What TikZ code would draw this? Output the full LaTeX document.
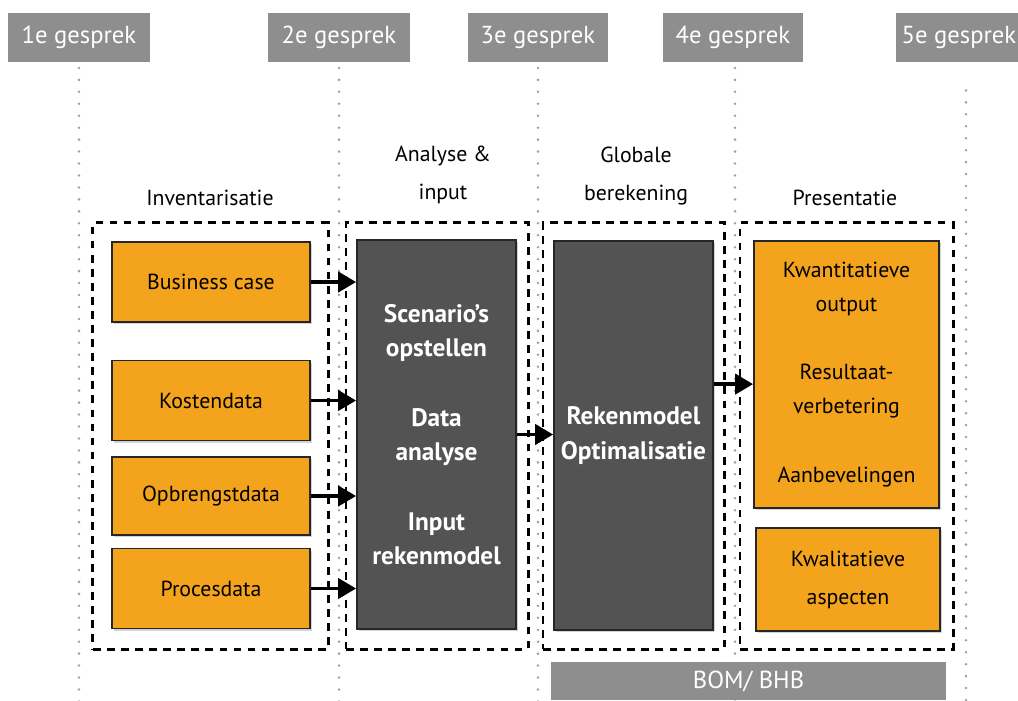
\documentclass[tikz,border=0pt]{standalone}
\usepackage{fontspec}
\setmainfont{PT Sans}
\definecolor{TalkGray}{HTML}{8E8E8E}
\definecolor{BoxOrange}{HTML}{F4A31D}
\definecolor{BoxDark}{HTML}{535353}
\definecolor{DotGray}{HTML}{A0A0A0}
\usetikzlibrary{arrows.meta, positioning, shadows}
\tikzset{
  talk/.style={fill=TalkGray, text=white, minimum width=3.55cm, minimum height=1.225cm, inner sep=0pt, font=\fontsize{17.5}{20}\selectfont},
  phase/.style={draw=black, line width=2.1pt, dash pattern=on 5.5pt off 4.5pt, minimum height=10.65cm, inner sep=0pt},
  phasetitle/.style={align=center, inner sep=0pt, font=\fontsize{15.5}{27}\selectfont},
  databox/.style={draw=black!85, line width=1.2pt, fill=BoxOrange, minimum width=4.95cm, minimum height=2cm, inner sep=2pt, align=center, font=\fontsize{15.5}{24}\selectfont, drop shadow={shadow xshift=1.5pt, shadow yshift=-1.5pt, opacity=0.35}},
  darkbox/.style={draw=black!85, line width=1.2pt, fill=BoxDark, text=white, minimum width=3.975cm, minimum height=9.725cm, inner sep=2pt, align=center, font=\fontsize{18}{24.5}\selectfont\bfseries, drop shadow={shadow xshift=1.5pt, shadow yshift=-1.5pt, opacity=0.35}},
  flow/.style={-{Triangle[length=4.5mm, width=5mm]}, line width=2.8pt},
  timeline/.style={DotGray, line width=2pt, line cap=round, dash pattern=on 0pt off 8.5pt, shorten <=4pt}
}

\begin{document}
\begin{tikzpicture}[x=0.025cm, y=-0.025cm]
\useasboundingbox (0,0) rectangle (1018,700);
\coordinate (base) at (0,705);

% gesprekken
\node[talk] (g1) at (79,37.5) {1e gesprek};
\node[talk] (g2) at (339,37.5) {2e gesprek};
\node[talk, minimum width=3.5cm] (g3) at (538,37.5) {3e gesprek};
\node[talk, minimum width=3.5cm] (g4) at (733,37.5) {4e gesprek};
\node[talk, minimum width=3.15cm] (g5) at (959,37.5) {5e gesprek};

\draw[timeline] (g1.south) -- (g1.south |- base);
\draw[timeline] (g2.south) -- (g2.south |- base);
\draw[timeline] (g3.south) -- (g3.south |- base);
\draw[timeline] ([xshift=0.05cm]g4.south) -- ([xshift=0.05cm]g4.south |- base);
\draw[timeline, shorten <=20pt] ([xshift=0.175cm]g5.south) -- ([xshift=0.175cm]g5.south |- base);

% fasen
\node[phase, minimum width=5.875cm] (inv) at (210.5,436) {};
\node[phase, minimum width=4.55cm] (ana) at (437,436) {};
\node[phase, minimum width=4.525cm] (glo) at (633.5,436) {};
\node[phase, minimum width=5.325cm] (pre) at (846.5,436) {};

\node[phasetitle] (tinv) at (210,198) {Inventarisatie};
\node[phasetitle] (tana) at (443,175) {Analyse \&\\input};
\node[phasetitle] (tglo) at (636,176) {Globale\\berekening};
\node[phasetitle] (tpre) at (845,198) {Presentatie};

% inventarisatie
\node[databox] (bc) at (211,282) {Business case};
\node[databox] (kd) at (211,400.5) {Kostendata};
\node[databox, minimum height=1.95cm] (od) at (211,496) {Opbrengstdata};
\node[databox] (pd) at (211,588.5) {Procesdata};

% analyse en berekening
\node[darkbox] (scen) at (436.5,434.5) {Scenario's\\opstellen\\[25pt]Data\\analyse\\[25pt]Input\\rekenmodel};
\node[darkbox] (reken) at (633.5,435.5) {Rekenmodel\\Optimalisatie};

% presentatie
\node[databox, minimum width=4.625cm, minimum height=6.675cm] (out) at (846.5,374.5) {Kwantitatieve\\output\\[25pt]Resultaat-\\verbetering\\[25pt]Aanbevelingen};
\node[databox, minimum width=4.6cm, minimum height=2.575cm, font=\fontsize{15.5}{27}\selectfont] (qual) at (848,579.5) {Kwalitatieve\\aspecten};

\node[talk, minimum width=9.875cm, minimum height=0.95cm] (bom) at (748.5,681) {BOM/ BHB};

\draw[flow] (bc.east) -- (bc.east -| scen.west);
\draw[flow] (kd.east) -- (kd.east -| scen.west);
\draw[flow] (od.east) -- (od.east -| scen.west);
\draw[flow] (pd.east) -- (pd.east -| scen.west);
\draw[flow] (scen.east) -- (scen.east -| reken.west);
\draw[flow] ([yshift=-0.24cm]out.west -| reken.east) -- ([yshift=-0.24cm]out.west);
\end{tikzpicture}
\end{document}
